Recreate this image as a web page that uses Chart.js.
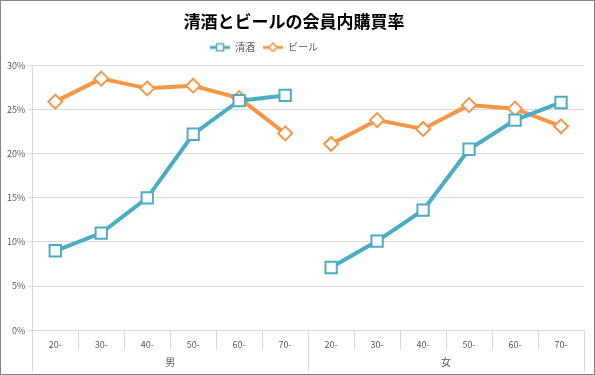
<!DOCTYPE html>
<html>
<head>
<meta charset="utf-8">
<script src="https://cdn.jsdelivr.net/npm/chart.js@4/dist/chart.umd.min.js"></script>
<style>
  html, body { margin: 0; padding: 0; background: #fff; }
  #wrap { width: 595px; height: 375px; box-sizing: border-box; border: 1px solid #868686; }
</style>
</head>
<body>
<div id="wrap"><canvas id="chart" width="593" height="373"></canvas></div>
<script>
// age bands repeated for each gender group
const ages = ['20-', '30-', '40-', '50-', '60-', '70-'];
const groups = ['男', '女'];
const sakeRate = [9.0, 11.0, 15.0, 22.2, 26.0, 26.6, 7.1, 10.1, 13.6, 20.5, 23.8, 25.8];
const beerRate = [25.9, 28.5, 27.4, 27.7, 26.3, 22.3, 21.1, 23.8, 22.8, 25.5, 25.1, 23.1];
const yTicks = [0, 5, 10, 15, 20, 25, 30];

const BLUE = '#4BACC6';
const ORANGE = '#F79646';
const FONT = '"Noto Sans CJK JP", "Noto Sans", sans-serif';

const labels = groups.flatMap(() => ages);

// legend icon: short line with the marker in the middle
function makeIcon(color, shape) {
  const c = document.createElement('canvas');
  c.width = 20; c.height = 10;
  const g = c.getContext('2d');
  g.strokeStyle = color;
  g.lineWidth = 3;
  g.beginPath(); g.moveTo(0, 5); g.lineTo(20, 5); g.stroke();
  g.fillStyle = '#fff';
  g.lineWidth = 1.5;
  g.beginPath();
  if (shape === 'rect') {
    g.rect(6.5, 1.5, 7, 7);
  } else {
    g.moveTo(10, 0.8); g.lineTo(14.2, 5); g.lineTo(10, 9.2); g.lineTo(5.8, 5); g.closePath();
  }
  g.fill(); g.stroke();
  return c;
}
const icons = [makeIcon(BLUE, 'rect'), makeIcon(ORANGE, 'diamond')];

// break the line between the two gender groups
const gapSegment = {
  borderColor: ctx => ctx.p0DataIndex === ages.length - 1 ? 'rgba(0,0,0,0)' : undefined
};

// a little more room under the legend, and nudge it left like the original
const legendGap = {
  id: 'legendGap',
  beforeInit(chart) {
    const legend = chart.legend;
    const fit = legend.fit;
    legend.fit = function () {
      fit.call(this);
      this.height += 3;
    };
    const draw = legend.draw;
    legend.draw = function () {
      const ctx = this.ctx;
      ctx.save();
      ctx.translate(-30, 0);
      draw.call(this);
      ctx.restore();
    };
  }
};

// separators and the 男 / 女 row under the category axis
const groupAxis = {
  id: 'groupAxis',
  afterDraw(chart) {
    const x = chart.scales.x;
    const ctx = chart.ctx;
    const top = chart.chartArea.bottom;
    const step = (x.right - x.left) / labels.length;
    ctx.save();
    ctx.strokeStyle = '#d9d9d9';
    ctx.lineWidth = 1;
    for (let i = 0; i <= labels.length; i++) {
      const px = Math.round(x.getPixelForValue(i) - step / 2) + 0.5;
      const outer = i % ages.length === 0;
      ctx.beginPath();
      ctx.moveTo(px, top);
      ctx.lineTo(px, outer ? 371 : 349);
      ctx.stroke();
    }
    ctx.fillStyle = '#595959';
    ctx.font = '10px ' + FONT;
    ctx.textAlign = 'center';
    ctx.textBaseline = 'middle';
    groups.forEach((g, gi) => {
      const a = x.getPixelForValue(gi * ages.length);
      const b = x.getPixelForValue(gi * ages.length + ages.length - 1);
      ctx.fillText(g, (a + b) / 2, 361);
    });
    ctx.restore();
  }
};

new Chart(document.getElementById('chart'), {
  type: 'line',
  data: {
    labels: labels,
    datasets: [
      {
        label: '清酒',
        data: sakeRate,
        borderColor: BLUE,
        backgroundColor: '#fff',
        borderWidth: 4,
        pointStyle: 'rect',
        pointRadius: 8,
        pointBorderWidth: 2,
        pointBorderColor: BLUE,
        pointBackgroundColor: '#fff',
        tension: 0,
        segment: gapSegment
      },
      {
        label: 'ビール',
        data: beerRate,
        borderColor: ORANGE,
        backgroundColor: '#fff',
        borderWidth: 4,
        pointStyle: 'rectRot',
        pointRadius: 7,
        pointBorderWidth: 2,
        pointBorderColor: ORANGE,
        pointBackgroundColor: '#fff',
        tension: 0,
        segment: gapSegment
      }
    ]
  },
  options: {
    responsive: false,
    animation: false,
    layout: { padding: { left: 3, right: 10, top: 0, bottom: 23 } },
    plugins: {
      title: {
        display: true,
        text: '清酒とビールの会員内購買率',
        color: '#000',
        font: { family: FONT, size: 17, weight: 'bold' },
        padding: { top: 10, bottom: 3 }
      },
      legend: {
        position: 'top',
        labels: {
          usePointStyle: true,
          pointStyleWidth: 20,
          color: '#595959',
          font: { family: FONT, size: 10 },
          boxHeight: 10,
          padding: 8,
          generateLabels(chart) {
            const items = Chart.defaults.plugins.legend.labels.generateLabels(chart);
            items.forEach((it, i) => { it.pointStyle = icons[i]; });
            return items;
          }
        }
      },
      tooltip: { enabled: false }
    },
    scales: {
      x: {
        offset: true,
        grid: { display: false },
        border: { color: '#d9d9d9' },
        ticks: {
          color: '#595959',
          font: { family: FONT, size: 9 },
          padding: 1,
          maxRotation: 0,
          autoSkip: false
        }
      },
      y: {
        min: yTicks[0],
        max: yTicks[yTicks.length - 1],
        afterBuildTicks: axis => { axis.ticks = yTicks.map(v => ({ value: v })); },
        grid: { color: '#d9d9d9', tickLength: 4 },
        border: { color: '#d9d9d9' },
        ticks: {
          color: '#595959',
          font: { family: FONT, size: 9 },
          padding: 3,
          callback: v => v + '%'
        }
      }
    }
  },
  plugins: [legendGap, groupAxis]
});
</script>
</body>
</html>
